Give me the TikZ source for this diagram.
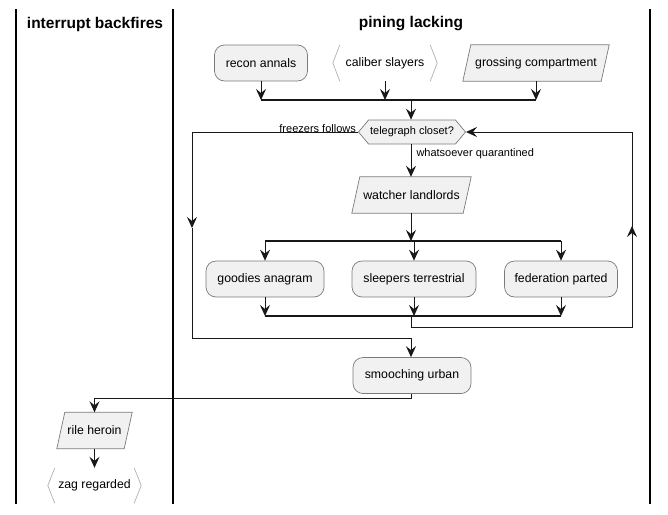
\documentclass[tikz,border=0pt]{standalone}
\usepackage{fontspec}
\setmainfont{Liberation Sans}
\usetikzlibrary{shapes.geometric,shapes.symbols,arrows.meta}
\definecolor{nodefill}{HTML}{F1F1F1}
\definecolor{linec}{HTML}{181818}
\definecolor{bordc}{HTML}{7A7A7A}
\definecolor{chevc}{HTML}{B0B0B0}
\pgfdeclarelayer{bg}
\pgfsetlayers{bg,main}
\newcommand\myparanode[4]{%
  \node[pbox, minimum width=#3] (#1) at #2 {#4};
  \begin{pgfonlayer}{bg}
  \draw[pshape] ([xshift=8pt]#1.north west) -- (#1.north east) -- ([xshift=-8pt]#1.south east) -- (#1.south west) -- cycle;
  \end{pgfonlayer}}
\begin{document}
\begin{tikzpicture}[x=1pt,y=-1pt,
  every node/.style={font=\fontsize{12.3}{14}\selectfont, inner sep=0pt},
  act/.style={rectangle, rounded corners=10pt, draw=bordc, fill=nodefill, line width=0.7pt, minimum height=36pt},
  pbox/.style={rectangle, minimum height=36pt},
  pshape/.style={draw=bordc, fill=nodefill, line width=0.7pt, line join=miter},
  chev/.style={rectangle, minimum height=36pt},
  chevline/.style={draw=chevc, line width=0.7pt},
  dec/.style={signal, signal to=west and east, signal pointer angle=100, draw=bordc, fill=nodefill, line width=0.7pt, minimum height=24pt, font=\fontsize{11}{13}\selectfont},
  lbl/.style={font=\fontsize{11}{13}\selectfont},
  lane/.style={draw=black, line width=1.5pt},
  title/.style={font=\fontsize{15.5}{18}\selectfont\bfseries},
  conn/.style={draw=linec, line width=1pt, -{Stealth[length=11pt,width=10pt,inset=4pt]}},
  line/.style={draw=linec, line width=1pt},
  bar/.style={draw=linec, line width=2pt}
]
\useasboundingbox (0,0) rectangle (668,514);

% lanes
\draw[lane] (16,9) -- (16,504);
\draw[lane] (173,9) -- (173,504);
\draw[lane] (650,9) -- (650,504);
\node[title] (t1) at (95,24) {interrupt backfires};
\node[title] (t2) at (411,24) {pining lacking};

% top row
\node[act, minimum width=93pt] (ra) at (261,63) {recon annals};
\node[chev, minimum width=104pt] (cs) at (385,63) {caliber slayers};
\draw[chevline] ([xshift=7pt]cs.north west) -- (cs.west) -- ([xshift=7pt]cs.south west);
\draw[chevline] ([xshift=-7pt]cs.north east) -- (cs.east) -- ([xshift=-7pt]cs.south east);
\myparanode{gc}{(536,63)}{146pt}{grossing compartment}

\coordinate (b1l) at (261,100);
\coordinate (b1m) at (385,100);
\coordinate (b1c) at (411,100);
\coordinate (b1r) at (536,100);
\draw[bar] (b1l) -- (b1r);
\draw[conn] (ra.south) -- (b1l);
\draw[conn] (cs.south) -- (b1m);
\draw[conn] (gc.south) -- (b1r);

% decision
\node[dec, minimum width=107pt] (tc) at (412,132) {telegraph closet?};
\draw[conn] (b1c) -- (tc.north -| b1c);

\myparanode{wl}{(411.5,195)}{119pt}{watcher landlords}
\draw[conn] (tc.south -| b1c) -- node[lbl, anchor=west, pos=0.3, xshift=5pt] (lw) {whatsoever quarantined} (wl.north -| b1c);

% fork
\coordinate (b2l) at (265,241);
\coordinate (b2c) at (411,241);
\coordinate (b2r) at (561,241);
\coordinate (b2m) at (414,241);
\draw[bar] (b2l) -- (b2r);
\draw[conn] (wl.south -| b2c) -- (b2c);

\node[act, minimum width=118pt] (ga) at (265,279) {goodies anagram};
\node[act, minimum width=124pt] (st) at (414,279) {sleepers terrestrial};
\node[act, minimum width=113pt] (fp) at (561,279) {federation parted};
\draw[conn] (b2l) -- (ga.north);
\draw[conn] (b2m) -- (st.north);
\draw[conn] (b2r) -- (fp.north);

\coordinate (b3l) at (265,316);
\coordinate (b3m) at (414,316);
\coordinate (b3c) at (411,316);
\coordinate (b3r) at (561,316);
\draw[bar] (b3l) -- (b3r);
\draw[conn] (ga.south) -- (b3l);
\draw[conn] (st.south) -- (b3m);
\draw[conn] (fp.south) -- (b3r);

% right loop back
\coordinate (r1) at (411,327);
\coordinate (r2) at (632,327);
\coordinate (r3) at (632,226);
\coordinate (r4) at (632,132);
\draw[line] (b3c) -- (r1) -- (r2) -- (r3);
\draw[conn] (r2) -- (r3);
\draw[conn] (r3) -- (r4) -- (tc.east);

% left exit
\coordinate (l1) at (192,132);
\coordinate (l2) at (192,228);
\coordinate (l3) at (192,338);
\coordinate (l4) at (411,338);
\draw[conn] (tc.west) -- (l1) -- (l2);
\draw[line] (l2) -- (l3) -- (l4);
\node[lbl, anchor=south east] (lf) at ([xshift=-2pt,yshift=-1pt]tc.west) {freezers follows};

\node[act, minimum width=118pt] (su) at (412,375.5) {smooching urban};
\draw[conn] (l4) -- (su.north -| l4);

% to left lane
\coordinate (s1) at (411,398);
\coordinate (s2) at (94.5,398);
\myparanode{rh}{(94.5,430.5)}{75pt}{rile heroin}
\draw[line] (su.south -| s1) -- (s1) -- (s2);
\draw[conn] (s2) -- (rh.north);

\node[chev, minimum width=93pt, minimum height=35pt] (zr) at (94.5,485.5) {zag regarded};
\draw[chevline] ([xshift=7pt]zr.north west) -- (zr.west) -- ([xshift=7pt]zr.south west);
\draw[chevline] ([xshift=-7pt]zr.north east) -- (zr.east) -- ([xshift=-7pt]zr.south east);
\draw[conn] (rh.south) -- (zr.north);
\end{tikzpicture}
\end{document}
